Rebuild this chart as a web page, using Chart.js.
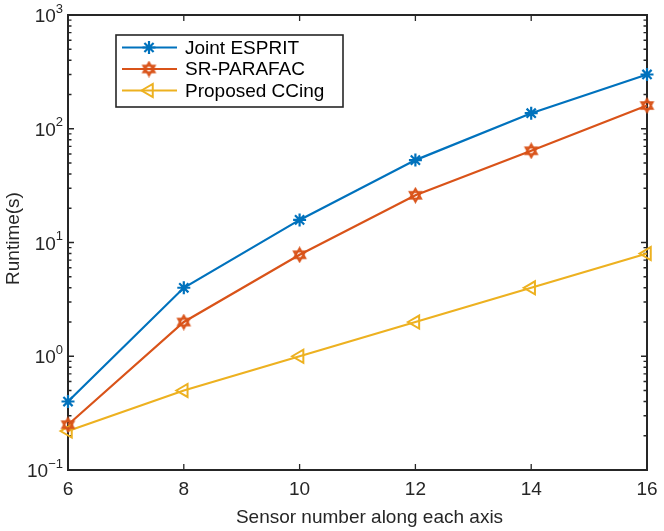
<!DOCTYPE html>
<html lang="en">
<head>
    <meta charset="UTF-8">
    <title>Runtime vs sensor number</title>
    <script src="https://cdn.jsdelivr.net/npm/chart.js"></script>
    <style>
        html, body { margin: 0; padding: 0; background: #fff; }
        #wrap { width: 664px; height: 531px; position: relative; }
    </style>
</head>
<body>
    <div id="wrap"><canvas id="runtimeChart"></canvas></div>

    <script>
    // values
    const sensorNumbers = [6, 8, 10, 12, 14, 16];
    const jointEsprit = [0.40, 4.0, 15.8, 53, 137, 300];
    const srParafac = [0.25, 2.0, 7.8, 26, 64, 160];
    const proposedCCing = [0.22, 0.5, 1.0, 2.0, 4.0, 8.0];

    const xTicks = [6, 8, 10, 12, 14, 16];
    const yTicks = [0.1, 1, 10, 100, 1000];
    const seriesNames = ['Joint ESPRIT', 'SR-PARAFAC', 'Proposed CCing'];

    const FONT = '"Liberation Sans", Arial, Helvetica, sans-serif';
    const AXIS_COLOR = '#262626';
    const colors = ['#0072BD', '#D95319', '#EDB120'];

    // hexagram marker (MATLAB 'h') drawn on a small canvas
    function hexagram(color, r) {
        const c = document.createElement('canvas');
        const s = Math.ceil(r * 2 + 4);
        c.width = s; c.height = s;
        const g = c.getContext('2d');
        g.strokeStyle = color;
        g.lineWidth = 2;
        const cx = s / 2, cy = s / 2;
        [-90, 90].forEach(start => {
            g.beginPath();
            for (let i = 0; i < 3; i++) {
                const a = (start + i * 120) * Math.PI / 180;
                const px = cx + r * Math.cos(a), py = cy + r * Math.sin(a);
                if (i === 0) g.moveTo(px, py); else g.lineTo(px, py);
            }
            g.closePath();
            g.stroke();
        });
        return c;
    }
    const hexMarker = hexagram(colors[1], 6.5);

    const toPoints = arr => arr.map((v, i) => ({ x: sensorNumbers[i], y: v }));

    // axis box, inward ticks (major + log minor), tick labels with superscripts, legend
    const matlabAxes = {
        id: 'matlabAxes',
        beforeDatasetsDraw(chart) {
            const { ctx, chartArea: a, scales } = chart;
            const xs = scales.x, ys = scales.y;
            ctx.save();
            ctx.strokeStyle = AXIS_COLOR;
            ctx.lineWidth = 2;
            ctx.strokeRect(a.left, a.top, a.right - a.left, a.bottom - a.top);

            ctx.lineWidth = 1.3;
            ctx.beginPath();
            xTicks.forEach(v => {
                const px = xs.getPixelForValue(v);
                ctx.moveTo(px, a.bottom); ctx.lineTo(px, a.bottom - 6);
                ctx.moveTo(px, a.top); ctx.lineTo(px, a.top + 6);
            });
            yTicks.forEach((v, k) => {
                const py = ys.getPixelForValue(v);
                ctx.moveTo(a.left, py); ctx.lineTo(a.left + 6, py);
                ctx.moveTo(a.right, py); ctx.lineTo(a.right - 6, py);
                if (k < yTicks.length - 1) {
                    for (let m = 2; m <= 9; m++) {
                        const pm = ys.getPixelForValue(v * m);
                        ctx.moveTo(a.left, pm); ctx.lineTo(a.left + 3.5, pm);
                        ctx.moveTo(a.right, pm); ctx.lineTo(a.right - 3.5, pm);
                    }
                }
            });
            ctx.stroke();

            // tick labels
            ctx.fillStyle = AXIS_COLOR;
            ctx.font = '19px ' + FONT;
            ctx.textAlign = 'center';
            ctx.textBaseline = 'middle';
            xTicks.forEach(v => ctx.fillText(String(v), xs.getPixelForValue(v), a.bottom + 20));

            yTicks.forEach(v => {
                const py = ys.getPixelForValue(v);
                const exp = String(Math.round(Math.log10(v))).replace('-', '\u2212');
                ctx.font = '13px ' + FONT;
                const ew = ctx.measureText(exp).width;
                ctx.font = '19px ' + FONT;
                const bw = ctx.measureText('10').width;
                const right = a.left - 5;
                ctx.textAlign = 'left';
                ctx.textBaseline = 'middle';
                ctx.fillText('10', right - ew - bw, py + 2);
                ctx.font = '13px ' + FONT;
                ctx.fillText(exp, right - ew, py - 6);
            });

            // axis titles
            ctx.font = '19px ' + FONT;
            ctx.textAlign = 'center';
            ctx.textBaseline = 'middle';
            ctx.fillText('Sensor number along each axis', (a.left + a.right) / 2 + 12, a.bottom + 48);
            ctx.save();
            ctx.translate(14, (a.top + a.bottom) / 2 - 4);
            ctx.rotate(-Math.PI / 2);
            ctx.fillText('Runtime(s)', 0, 0);
            ctx.restore();
            ctx.restore();
        },
        afterDatasetsDraw(chart) {
            const { ctx, chartArea: a } = chart;
            ctx.save();
            // legend box
            const lx = a.left + 48, ly = a.top + 20, lw = 227, lh = 72;
            ctx.fillStyle = '#fff';
            ctx.fillRect(lx, ly, lw, lh);
            ctx.strokeStyle = AXIS_COLOR;
            ctx.lineWidth = 1.6;
            ctx.strokeRect(lx, ly, lw, lh);
            chart.data.datasets.forEach((ds, i) => {
                const yy = ly + 12.5 + i * 21.5;
                ctx.strokeStyle = ds.borderColor;
                ctx.lineWidth = 2;
                ctx.beginPath();
                ctx.moveTo(lx + 6, yy); ctx.lineTo(lx + 61, yy);
                ctx.stroke();
                ctx.strokeStyle = ds.pointBorderColor || ds.borderColor;
                ctx.fillStyle = 'rgba(255,255,255,0)';
                ctx.lineWidth = ds.pointBorderWidth || 2;
                Chart.helpers.drawPoint(ctx, {
                    pointStyle: ds.pointStyle,
                    radius: ds.pointRadius,
                    rotation: ds.pointRotation || 0,
                    borderWidth: ds.pointBorderWidth
                }, lx + 33, yy);
                ctx.fillStyle = '#000';
                ctx.font = '19px ' + FONT;
                ctx.textAlign = 'left';
                ctx.textBaseline = 'middle';
                ctx.fillText(ds.label, lx + 69, yy + 1);
            });
            ctx.restore();
        }
    };

    const chart = new Chart(document.getElementById('runtimeChart'), {
        type: 'line',
        data: {
            datasets: [{
                label: seriesNames[0],
                data: toPoints(jointEsprit),
                borderColor: colors[0],
                backgroundColor: colors[0],
                borderWidth: 2.2,
                pointStyle: 'star',
                pointRadius: 6.5,
                pointBorderWidth: 2.2,
                pointBorderColor: colors[0],
                clip: false
            }, {
                label: seriesNames[1],
                data: toPoints(srParafac),
                borderColor: colors[1],
                backgroundColor: colors[1],
                borderWidth: 2.2,
                pointStyle: hexMarker,
                pointRadius: 6,
                clip: false
            }, {
                label: seriesNames[2],
                data: toPoints(proposedCCing),
                borderColor: colors[2],
                backgroundColor: '#fff',
                borderWidth: 2.2,
                pointStyle: 'triangle',
                pointRotation: -90,
                pointRadius: 7.5,
                pointBorderWidth: 2,
                pointBorderColor: colors[2],
                pointBackgroundColor: 'rgba(255,255,255,0)',
                clip: false
            }]
        },
        options: {
            responsive: true,
            maintainAspectRatio: false,
            animation: false,
            layout: { padding: { left: 0, right: 17, top: 15, bottom: 0 } },
            plugins: {
                legend: { display: false },
                tooltip: { enabled: false }
            },
            scales: {
                x: {
                    type: 'linear',
                    min: 6,
                    max: 16,
                    grid: { display: false },
                    border: { display: false },
                    ticks: { display: false },
                    afterFit: s => { s.height = 61; }
                },
                y: {
                    type: 'logarithmic',
                    min: 0.1,
                    max: 1000,
                    grid: { display: false },
                    border: { display: false },
                    ticks: { display: false },
                    afterFit: s => { s.width = 68; }
                }
            }
        },
        plugins: [matlabAxes]
    });
    </script>
</body>
</html>
